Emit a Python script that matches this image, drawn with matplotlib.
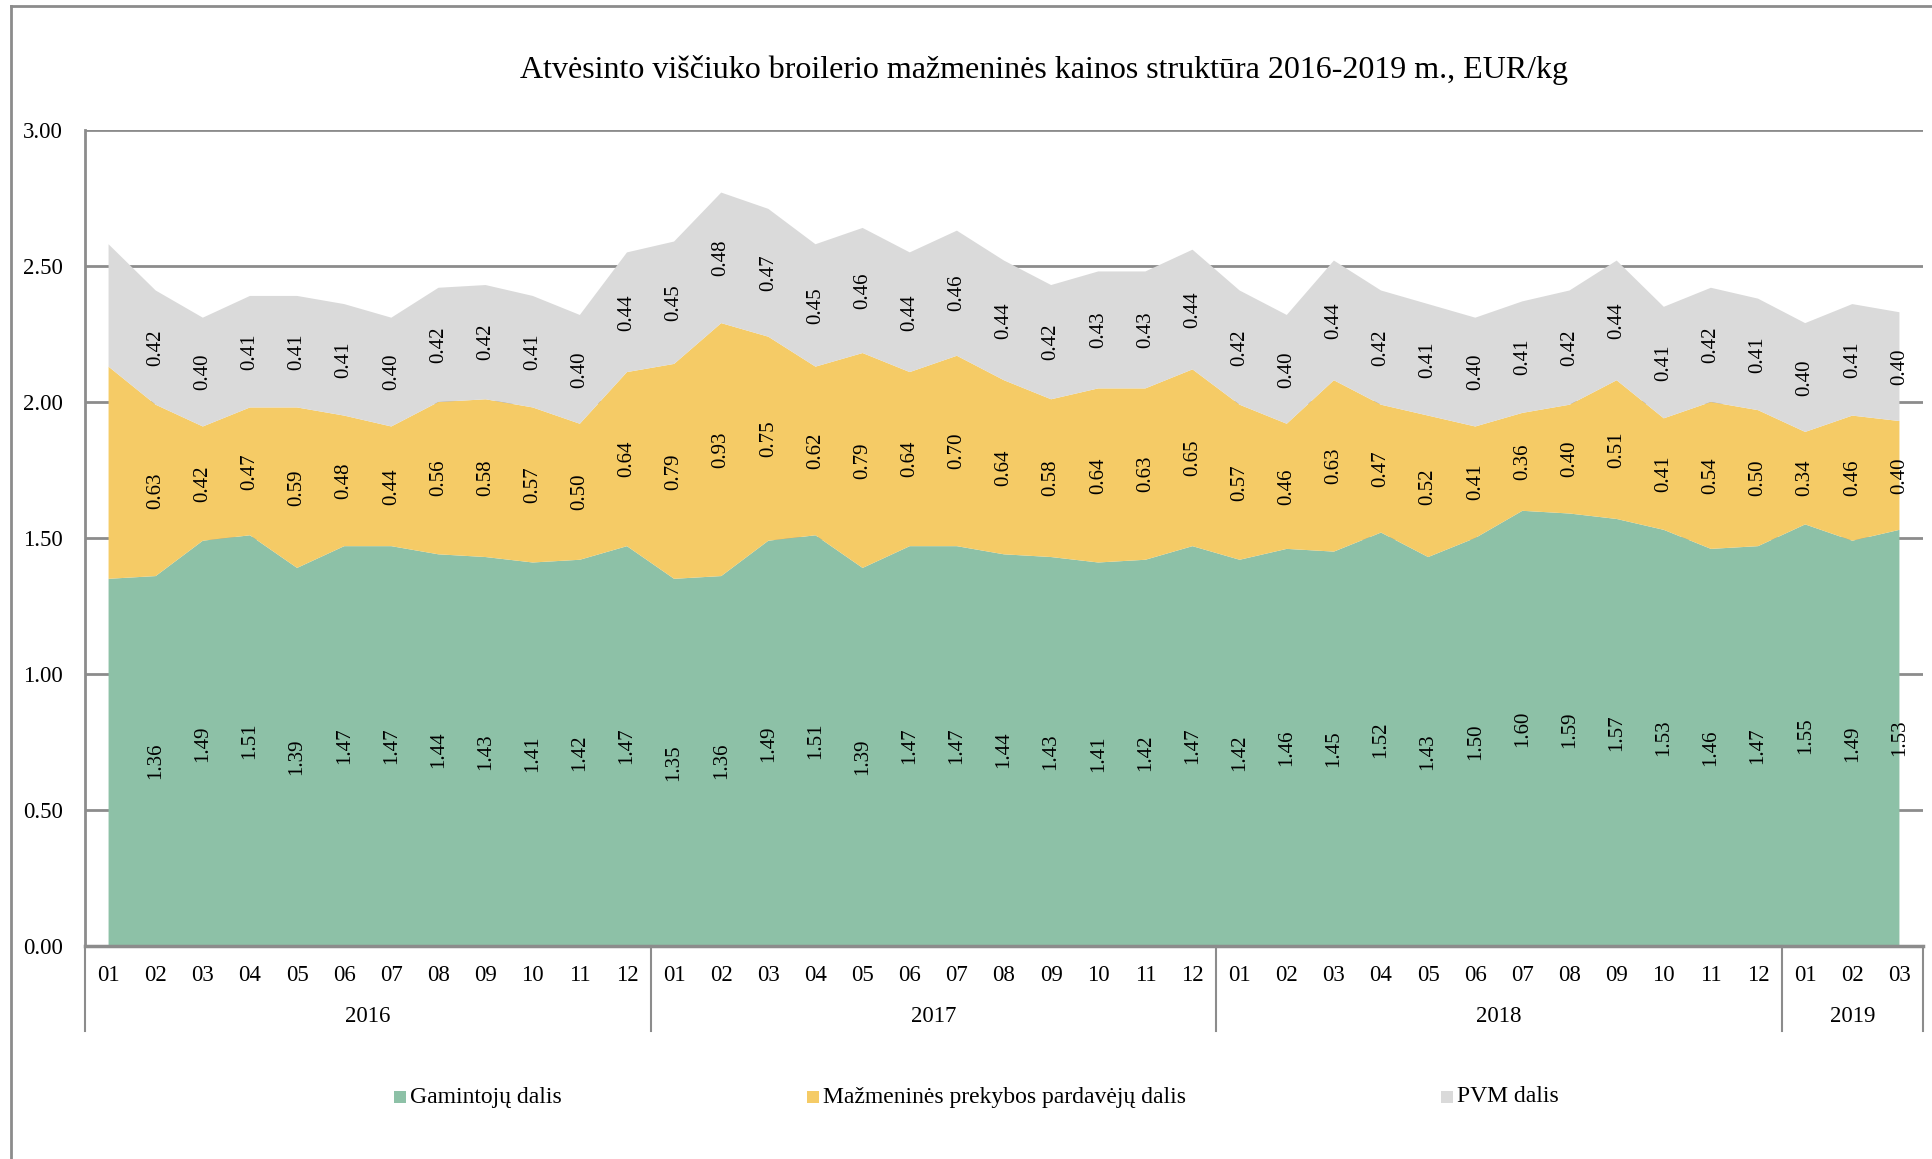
import numpy as np
import matplotlib
matplotlib.use("Agg")
import matplotlib.pyplot as plt
from matplotlib.patches import Rectangle
from matplotlib.lines import Line2D

plt.rcParams["font.family"] = ["Liberation Serif", "DejaVu Serif"]

# ------------------------------------------------------------
# Data (EUR/kg), 2016-01 ... 2019-03
# ------------------------------------------------------------
years = ["2016", "2017", "2018", "2019"]
months_per_year = [12, 12, 12, 3]
month_labels = [f"{m:02d}" for n in months_per_year for m in range(1, n + 1)]

gamintoju = [1.35, 1.36, 1.49, 1.51, 1.39, 1.47, 1.47, 1.44, 1.43, 1.41, 1.42, 1.47,
             1.35, 1.36, 1.49, 1.51, 1.39, 1.47, 1.47, 1.44, 1.43, 1.41, 1.42, 1.47,
             1.42, 1.46, 1.45, 1.52, 1.43, 1.50, 1.60, 1.59, 1.57, 1.53, 1.46, 1.47,
             1.55, 1.49, 1.53]
mazmenines = [0.78, 0.63, 0.42, 0.47, 0.59, 0.48, 0.44, 0.56, 0.58, 0.57, 0.50, 0.64,
              0.79, 0.93, 0.75, 0.62, 0.79, 0.64, 0.70, 0.64, 0.58, 0.64, 0.63, 0.65,
              0.57, 0.46, 0.63, 0.47, 0.52, 0.41, 0.36, 0.40, 0.51, 0.41, 0.54, 0.50,
              0.34, 0.46, 0.40]
pvm = [0.45, 0.42, 0.40, 0.41, 0.41, 0.41, 0.40, 0.42, 0.42, 0.41, 0.40, 0.44,
       0.45, 0.48, 0.47, 0.45, 0.46, 0.44, 0.46, 0.44, 0.42, 0.43, 0.43, 0.44,
       0.42, 0.40, 0.44, 0.42, 0.41, 0.40, 0.41, 0.42, 0.44, 0.41, 0.42, 0.41,
       0.40, 0.41, 0.40]

series_names = ["Gamintojų dalis", "Mažmeninės prekybos pardavėjų dalis", "PVM dalis"]
colors = ["#8DC1A7", "#F5CB66", "#DADADA"]
grid_color = "#8C8C8C"

# ------------------------------------------------------------
# Figure
# ------------------------------------------------------------
W, H = 1932, 1159
fig = plt.figure(figsize=(W / 100, H / 100), dpi=100)

ax_left, ax_right, ax_top, ax_bottom = 85, 1923, 130, 946
ax = fig.add_axes([ax_left / W, 1 - ax_bottom / H,
                   (ax_right - ax_left) / W, (ax_bottom - ax_top) / H])

x = np.arange(len(gamintoju))
layers = [np.array(gamintoju), np.array(mazmenines), np.array(pvm)]
ax.stackplot(x, *layers, colors=colors, linewidth=0, zorder=2)

ax.set_xlim(-0.5, len(x) - 0.5)
ax.set_ylim(0, 3)
ax.set_yticks(np.arange(0, 3.01, 0.5))
ax.set_yticklabels([f"{v:.2f}" for v in np.arange(0, 3.01, 0.5)], fontsize=16.5)
ax.yaxis.grid(True, color=grid_color, linewidth=2, zorder=0)
ax.set_axisbelow(True)

ax.set_xticks(x)
ax.set_xticklabels(month_labels, fontsize=16.5)
ax.tick_params(axis="x", length=0, pad=13.4)
ax.tick_params(axis="y", length=0, pad=15.8)

for side in ["top", "right"]:
    ax.spines[side].set_visible(False)
ax.spines["left"].set_color(grid_color)
ax.spines["left"].set_linewidth(2)
ax.spines["bottom"].set_color(grid_color)
ax.spines["bottom"].set_linewidth(2.5)

# Data labels in the middle of each band (first month has none)
bottom = np.zeros(len(x))
for layer in layers:
    for i in range(1, len(x)):
        ax.text(x[i], bottom[i] + layer[i] / 2, f"{layer[i]:.2f}",
                rotation=90, ha="center", va="center", fontsize=15, zorder=3)
    bottom = bottom + layer

# Year separators and year labels under the month labels
sep_depth = (1031 - ax_bottom) / (ax_bottom - ax_top)
trans = ax.get_xaxis_transform()
boundaries = np.concatenate([[0], np.cumsum(months_per_year)]) - 0.5
for b in boundaries:
    ax.add_line(Line2D([b, b], [0, -sep_depth], transform=trans,
                       color=grid_color, linewidth=1.5, clip_on=False))
year_y = -(1017 - ax_bottom) / (ax_bottom - ax_top)
for yr, start, end in zip(years, boundaries[:-1], boundaries[1:]):
    ax.text((start + end) / 2, year_y, yr, transform=trans,
            ha="center", va="center", fontsize=16.5)

# Title
fig.text(1044 / W, 1 - 70 / H,
         "Atvėsinto viščiuko broilerio mažmeninės kainos struktūra 2016-2019 m., EUR/kg",
         ha="center", va="center", fontsize=23)

# Legend drawn by hand to match the wide spacing
legend_y = 1 - 1097 / H
square_x = [394, 807, 1441]
sq = 12
for name, color, sx in zip(series_names, colors, square_x):
    fig.add_artist(Rectangle((sx / W, legend_y - sq / 2 / H), sq / W, sq / H,
                             facecolor=color, edgecolor="none",
                             transform=fig.transFigure))
    fig.text((sx + sq + 4) / W, legend_y, name, ha="left", va="center",
             fontsize=17)

# Chart-area border (left and top visible)
fig.add_artist(Line2D([11 / W, 11 / W], [0, 1 - 6 / H], transform=fig.transFigure,
                      color=grid_color, linewidth=2))
fig.add_artist(Line2D([11 / W, 1], [1 - 6 / H, 1 - 6 / H], transform=fig.transFigure,
                      color=grid_color, linewidth=2))

fig.savefig("out.png", dpi=100, facecolor="white")
